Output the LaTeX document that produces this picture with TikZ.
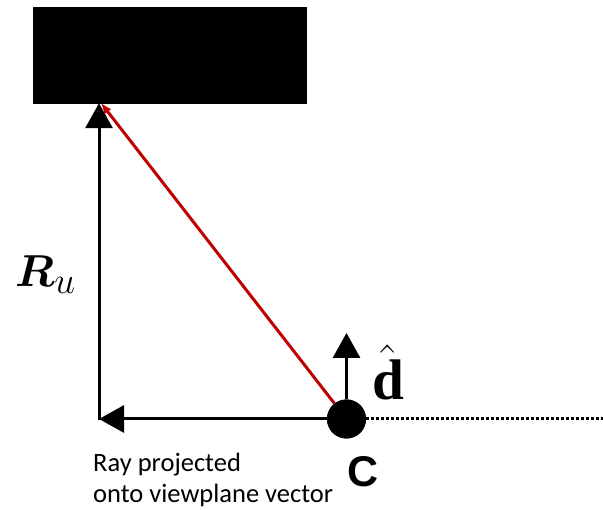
\documentclass[tikz,border=0pt]{standalone}
\usepackage{amsmath,bm}
\usepackage[no-math]{fontspec}
\setmainfont{Carlito}
\newfontfamily\camfont{Liberation Sans}
\newfontfamily\dirfont{Liberation Serif}
\usetikzlibrary{arrows.meta,positioning}
\begin{document}
\begin{tikzpicture}[
  x=1pt,y=-1pt,
  target/.style={fill=black,draw=black,minimum width=273pt,minimum height=96pt,inner sep=0pt},
  cam/.style={circle,fill=black,minimum size=39pt,inner sep=0pt},
  vec/.style={line width=3pt,-{Triangle[length=25pt,width=27pt]}},
  ray/.style={line width=3pt,red!75!black,-{Latex[length=11pt,width=9pt]}},
  lbl/.style={inner sep=0pt,anchor=base west},
  note/.style={inner sep=0pt,anchor=base west,align=left,
    font=\fontsize{26.5}{31}\selectfont}]
\useasboundingbox (0,0) rectangle (603,510);
\node[target] (blk) at (169.5,55) {};
\node[cam] (c) at (346.5,419) {};
\coordinate (corner) at (99,419);
\coordinate (top) at (corner |- blk.south);
\coordinate (hit) at (101,103);
\coordinate (dtip) at (346.5,333);
\coordinate (far) at (603,419);
% projected ray and up vector
\draw[vec] (c.center) -- (corner);
\draw[vec,shorten <=-1.5pt] (corner) -- (top);
\draw[ray] (c) -- (hit);
\draw[vec] (c.north) -- (dtip);
\draw[line width=3pt,dotted] (c.east) -- (far);
\node[cam] at (c) {};
% labels
\node[lbl] (ru) at (15,287) {\scalebox{1.8}{\fontsize{24.88}{24.88}\selectfont$\bm{R}_u$}};
\node[lbl] (dh) at (372,400) {\scalebox{2.3}{\fontsize{24.88}{24.88}\selectfont$\hat{\text{\dirfont\bfseries d}}$}};
\node[lbl] (cl) at (347,487) {\fontsize{43}{43}\selectfont\camfont\bfseries C};
\node[note] (rp) at (93,503) {Ray projected\\onto viewplane vector};
\end{tikzpicture}
\end{document}
